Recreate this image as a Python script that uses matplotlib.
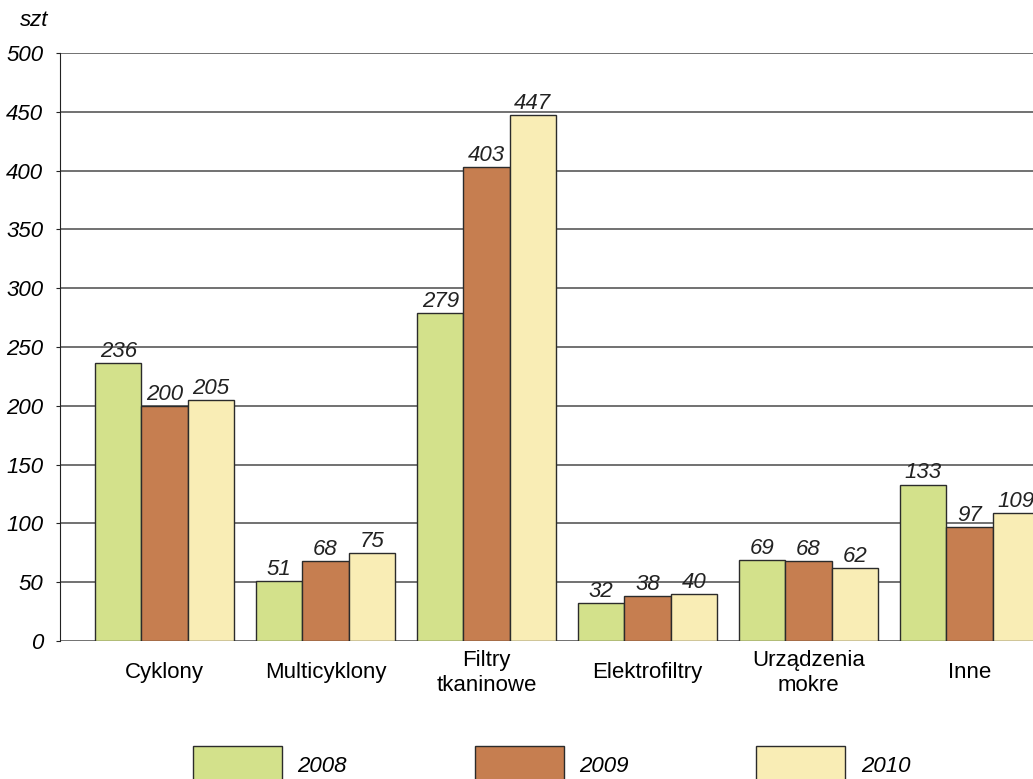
import matplotlib.pyplot as plt
import numpy as np

categories = ["Cyklony", "Multicyklony", "Filtry\ntkaninowe", "Elektrofiltry",
              "Urządzenia\nmokre", "Inne"]
years = ["2008", "2009", "2010"]
v2008 = [236, 51, 279, 32, 69, 133]
v2009 = [200, 68, 403, 38, 68, 97]
v2010 = [205, 75, 447, 40, 62, 109]
colors = ["#d3e18b", "#c67e50", "#f9edb5"]

plt.rcParams["font.family"] = ["Liberation Sans", "DejaVu Sans"]

W, H = 1033, 779
fig = plt.figure(figsize=(W / 100, H / 100), dpi=100)
ax = fig.add_axes([60 / W, 1 - 641 / H, 1 - 60 / W, (641 - 53) / H])

x = np.arange(len(categories))
w = 0.2876
for k, (vals, col, yr) in enumerate(zip([v2008, v2009, v2010], colors, years)):
    pos = x + (k - 1) * w
    ax.bar(pos, vals, w, color=col, edgecolor="#2b2b2b", linewidth=1.0,
           label=yr, zorder=3)
    for p, v in zip(pos, vals):
        ax.text(p, v + 1, str(v), ha="center", va="bottom", fontsize=16,
                style="italic", color="#222222", zorder=4)

ax.set_xlim(-0.649, 5.394)
ax.set_ylim(0, 500)
ax.set_yticks(range(0, 501, 50))
ax.yaxis.grid(True, color="#4a4a4a", linewidth=1.1, zorder=0)
ax.set_axisbelow(True)
for s in ["top", "right", "bottom"]:
    ax.spines[s].set_visible(False)
ax.spines["left"].set_color("#222222")
ax.tick_params(axis="y", length=3, pad=9, labelsize=16, color="#222222")
for lab in ax.get_yticklabels():
    lab.set_style("italic")
ax.set_xticks(x)
ax.set_xticklabels(categories, fontsize=16, linespacing=1.25)
ax.tick_params(axis="x", length=0, pad=23)
for lab in ax.get_xticklabels():
    lab.set_va("center")

fig.text(20 / W, 1 - 20 / H, "szt", fontsize=16, style="italic", va="center", ha="left")

leg = fig.legend(loc="upper left", bbox_to_anchor=(193 / W, 1 - 746 / H), ncol=3,
                 frameon=False, fontsize=16, handlelength=4.0, handleheight=2.2,
                 handletextpad=0.7, columnspacing=5.75, borderpad=0, borderaxespad=0)
for t in leg.get_texts():
    t.set_style("italic")

fig.savefig("out.png", dpi=100)
